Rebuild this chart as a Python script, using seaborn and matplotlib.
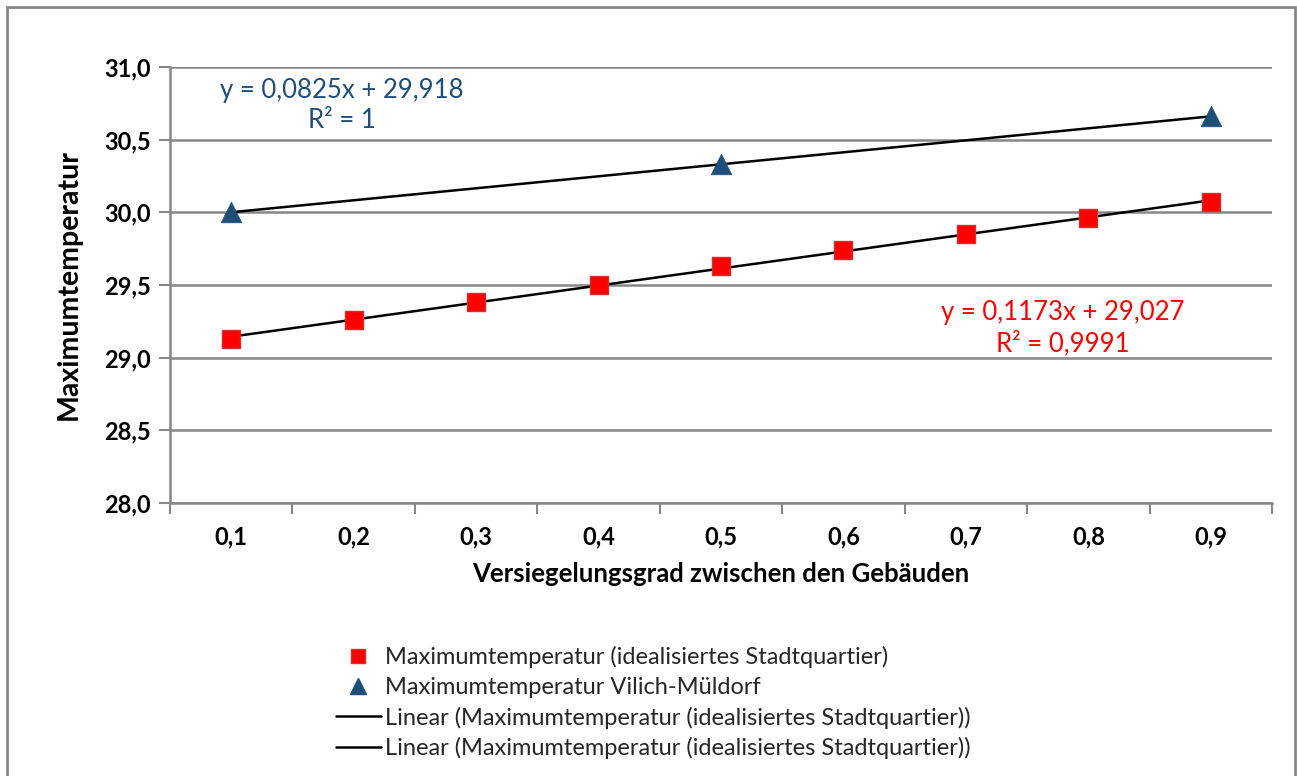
import numpy as np
import pandas as pd
import seaborn as sns
import matplotlib
matplotlib.use("Agg")
import matplotlib.pyplot as plt
from matplotlib.lines import Line2D
from matplotlib.patches import Rectangle

# ---- data -------------------------------------------------------------
categories = ["0,1", "0,2", "0,3", "0,4", "0,5", "0,6", "0,7", "0,8", "0,9"]
temp_quartier = [29.13, 29.26, 29.38, 29.50, 29.63, 29.74, 29.85, 29.96, 30.07]
vilich_categories = ["0,1", "0,5", "0,9"]
temp_vilich = [30.00, 30.33, 30.66]

# linear trend parameters (x = category index 1..9)
trend_slope = [0.1173, 0.0825]
trend_intercept = [29.027, 29.918]
trend_r2 = [0.9991, 1]

y_ticks = [28.0, 28.5, 29.0, 29.5, 30.0, 30.5, 31.0]

label_quartier = "Maximumtemperatur (idealisiertes Stadtquartier)"
label_vilich = "Maximumtemperatur Vilich-Müldorf"
label_trend = "Linear (Maximumtemperatur (idealisiertes Stadtquartier))"

# ---- styling ----------------------------------------------------------
sns.set_theme(style="white")
plt.rcParams["font.family"] = ["Lato", "DejaVu Sans"]

GRID = "#878787"
RED = "#FF0000"
BLUE = "#1F4E79"


def de_num(v, nd):
    s = f"{v:.{nd}f}".rstrip("0").rstrip(".")
    return s.replace(".", ",")


pos = {c: i + 1 for i, c in enumerate(categories)}
df_q = pd.DataFrame({"x": [pos[c] for c in categories], "y": temp_quartier})
df_v = pd.DataFrame({"x": [pos[c] for c in vilich_categories], "y": temp_vilich})

fig = plt.figure(figsize=(12.97, 7.76), dpi=100)
ax = fig.add_axes([170 / 1297, 1 - 503 / 776, (1272 - 170) / 1297, (503 - 67) / 776])

# trend lines
for df, m, b in [(df_q, trend_slope[0], trend_intercept[0]),
                 (df_v, trend_slope[1], trend_intercept[1])]:
    xs = np.array([df["x"].min(), df["x"].max()])
    tl = pd.DataFrame({"x": xs, "y": m * xs + b})
    sns.lineplot(data=tl, x="x", y="y", color="black", lw=1.8, ax=ax, zorder=3)

# markers
sns.scatterplot(data=df_q, x="x", y="y", marker="s", s=150, color=RED,
                edgecolor="#D23030", linewidth=1.0, ax=ax, zorder=4)
sns.scatterplot(data=df_v, x="x", y="y", marker="^", s=220, color=BLUE,
                edgecolor=BLUE, linewidth=0.5, ax=ax, zorder=4)

# axes
ax.set_xlim(0.5, len(categories) + 0.5)
ax.set_ylim(y_ticks[0], y_ticks[-1])
ax.set_yticks(y_ticks)
ax.set_yticklabels([f"{t:.1f}".replace(".", ",") for t in y_ticks])
ax.set_xticks(range(1, len(categories) + 1))
ax.set_xticklabels(categories)
ax.set_xticks(np.arange(0.5, len(categories) + 1, 1.0), minor=True)
ax.tick_params(axis="x", which="major", length=0, pad=16, labelsize=17, labelcolor="black")
ax.tick_params(axis="x", which="minor", length=8, width=1.5, color=GRID, direction="out", bottom=True)
ax.tick_params(axis="y", which="major", length=8, width=1.5, color=GRID, direction="out",
               left=True, pad=6, labelsize=17, labelcolor="black")
for lab in ax.get_xticklabels() + ax.get_yticklabels():
    lab.set_fontweight("bold")

ax.grid(axis="y", color=GRID, lw=1.8)
ax.grid(axis="x", visible=False)
ax.set_axisbelow(True)
for side in ["top", "right"]:
    ax.spines[side].set_visible(False)
for side in ["left", "bottom"]:
    ax.spines[side].set_color(GRID)
    ax.spines[side].set_linewidth(1.8)

ax.set_xlabel("Versiegelungsgrad zwischen den Gebäuden", fontsize=18.5,
              fontweight="bold", color="black", labelpad=10)
ax.set_ylabel("Maximumtemperatur", fontsize=20.5, fontweight="bold",
              color="black", labelpad=16)

# trend equations
ax.text(1.905, 30.738,
        f"y = {de_num(trend_slope[1], 4)}x + {de_num(trend_intercept[1], 3)}\n"
        f"R² = {de_num(trend_r2[1], 4)}",
        color=BLUE, fontsize=18.5, ha="center", va="center", linespacing=1.25)
ax.text(7.79, 29.204,
        f"y = {de_num(trend_slope[0], 4)}x + {de_num(trend_intercept[0], 3)}\n"
        f"R² = {de_num(trend_r2[0], 4)}",
        color=RED, fontsize=18.5, ha="center", va="center", linespacing=1.25)

# legend below the plot
handles = [
    Line2D([], [], ls="none", marker="s", ms=10, color=RED, markeredgecolor="#D23030"),
    Line2D([], [], ls="none", marker="^", ms=11, color=BLUE),
    Line2D([], [], color="black", lw=1.8),
    Line2D([], [], color="black", lw=1.8),
]
fig.legend(handles, [label_quartier, label_vilich, label_trend, label_trend],
           loc="upper left", bbox_to_anchor=(336 / 1297, 1 - 646 / 776),
           frameon=False, fontsize=17, handlelength=1.9, handletextpad=0.18,
           labelspacing=0.37, borderaxespad=0, borderpad=0)

# chart frame
fig.patches.append(Rectangle((7 / 1297, -0.05), (1295 - 7) / 1297, 1.05 - 7 / 776,
                             transform=fig.transFigure, fill=False,
                             edgecolor=GRID, lw=2))

fig.savefig("out.png", dpi=100)
